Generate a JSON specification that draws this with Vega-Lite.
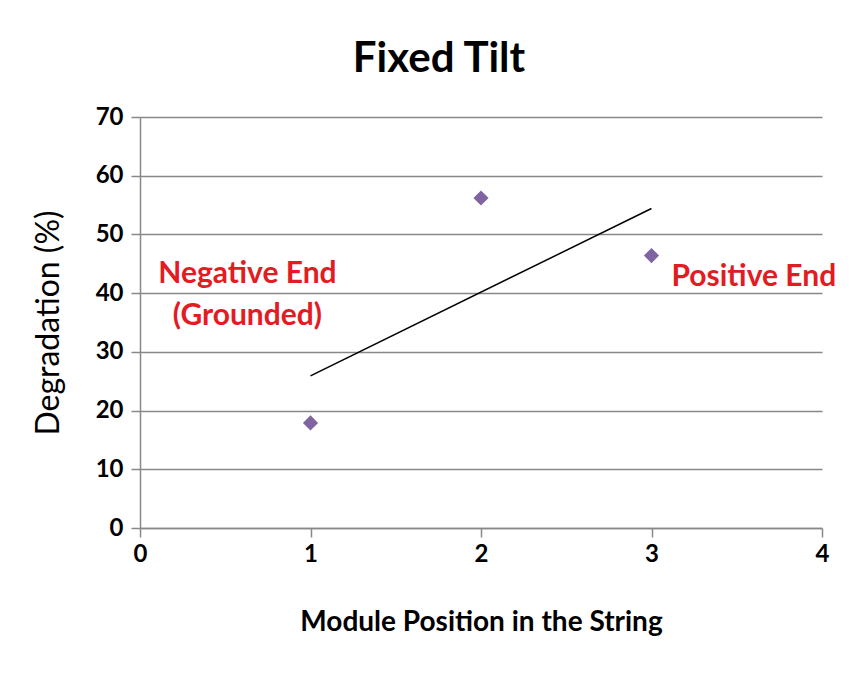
{
  "$schema": "https://vega.github.io/schema/vega-lite/v6.json",
  "width": 682,
  "height": 411,
  "autosize": {"type": "none"},
  "padding": {"left": 140, "top": 117, "right": 43, "bottom": 148},
  "background": "white",
  "title": {
    "text": "Fixed Tilt",
    "font": "Lato",
    "fontSize": 42,
    "fontWeight": "bold",
    "color": "#000000",
    "anchor": "middle",
    "frame": "group",
    "dx": -42,
    "offset": 24
  },
  "config": {
    "view": {"stroke": null},
    "axis": {
      "labelFont": "Lato",
      "labelFontWeight": "bold",
      "labelFontSize": 24,
      "labelColor": "#000000",
      "titleFont": "Lato",
      "titleColor": "#000000",
      "domainColor": "#888888",
      "tickColor": "#888888",
      "gridColor": "#888888",
      "domainWidth": 1.5,
      "tickWidth": 1.5,
      "gridWidth": 1.5,
      "tickSize": 9
    }
  },
  "datasets": {
    "points": [
      {"position": 1, "degradation": 17.9},
      {"position": 2, "degradation": 56.2},
      {"position": 3, "degradation": 46.4}
    ],
    "notes": [
      {"position": 0.63, "degradation": 43.3, "label": "Negative End"},
      {"position": 0.63, "degradation": 36.1, "label": "(Grounded)"},
      {"position": 3.6, "degradation": 42.8, "label": "Positive End"}
    ]
  },
  "layer": [
    {
      "data": {"name": "points"},
      "mark": {"type": "point", "shape": "diamond", "filled": true, "size": 230, "color": "#8064A2", "opacity": 1},
      "encoding": {
        "x": {
          "field": "position",
          "type": "quantitative",
          "scale": {"domain": [0, 4]},
          "axis": {
            "title": "Module Position in the String",
            "titleFontSize": 28,
            "titleFontWeight": "bold",
            "titlePadding": 42,
            "values": [0, 1, 2, 3, 4],
            "format": "d",
            "labelFlush": false,
            "grid": false,
            "labelPadding": 5
          }
        },
        "y": {
          "field": "degradation",
          "type": "quantitative",
          "scale": {"domain": [0, 70]},
          "axis": {
            "title": "Degradation (%)",
            "titleFontSize": 32,
            "titleFontWeight": "normal",
            "titlePadding": 30,
            "values": [0, 10, 20, 30, 40, 50, 60, 70],
            "grid": true,
            "labelPadding": 8
          }
        }
      }
    },
    {
      "data": {"name": "points"},
      "transform": [
        {"regression": "degradation", "on": "position", "extent": [1, 3]}
      ],
      "mark": {"type": "line", "color": "#000000", "strokeWidth": 1.5},
      "encoding": {
        "x": {"field": "position", "type": "quantitative"},
        "y": {"field": "degradation", "type": "quantitative"}
      }
    },
    {
      "data": {"name": "notes"},
      "mark": {"type": "text", "font": "Lato", "fontWeight": "bold", "fontSize": 30, "color": "#E31B23", "align": "center", "baseline": "middle"},
      "encoding": {
        "x": {"field": "position", "type": "quantitative"},
        "y": {"field": "degradation", "type": "quantitative"},
        "text": {"field": "label"}
      }
    }
  ]
}
